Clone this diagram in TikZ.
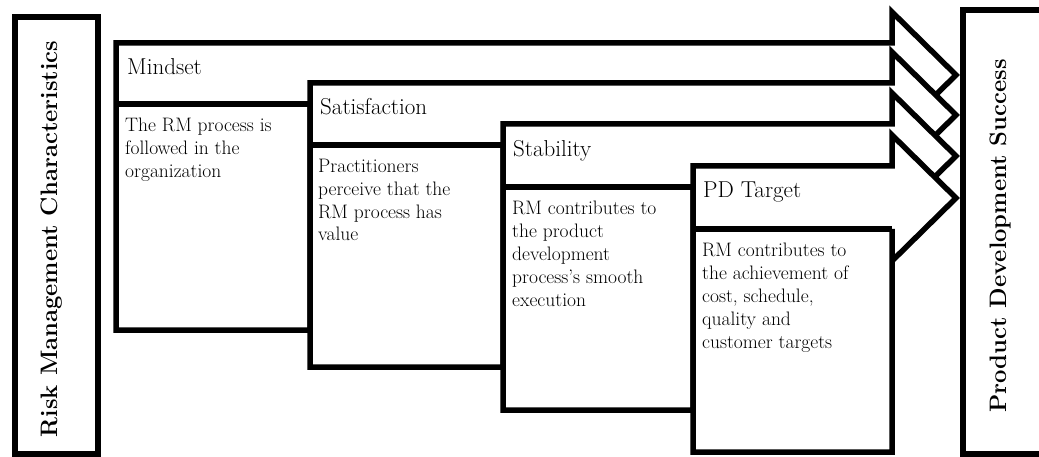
\documentclass[tikz,border=0pt]{standalone}
\usepackage{fontspec}
\begin{document}
\begin{tikzpicture}[x=1pt,y=-1pt]
\tikzset{
  frame/.style={line width=5.5pt, line join=miter, draw=black, fill=white},
  headtext/.style={font=\fontsize{23}{27}\selectfont, anchor=base west, inner sep=0pt},
  bodytext/.style={font=\fontsize{19.5}{23}\selectfont, anchor=base west, inner sep=0pt, align=left},
  sidetext/.style={font=\fontsize{23.8}{30}\selectfont\bfseries, anchor=base, inner sep=0pt, rotate=90},
}
% stage shape: #1 left, #2 right, #3 top, #4 header bottom, #5 box bottom
\newcommand\pdstage[5]{%
  \draw[frame] (#1,#3) -- (892,#3) -- (892,#3-31) -- (956,#3+32) -- (892,#3+95)
     -- (892,#4) -- (#2,#4) -- (#2,#5) -- (#1,#5) -- cycle;
  \draw[line width=5.5pt] (#1,#4) -- (#2,#4);
}
\useasboundingbox (0,0) rectangle (1039,457);
\begin{scope}
\clip (0,0) rectangle (1039,457);

% left frame
\draw[frame] (15,17) rectangle (98,454);
\node[sidetext] (rmc) at (57,239) {Risk Management Characteristics};

% stages, each one drawn over the previous
% (body nodes are placed by the baseline of their last line)
\pdstage{116}{310}{43}{104}{330}
\node[headtext] (h1) at (127,75) {Mindset};
\node[bodytext] (b1) at (125,178) {The RM process is\\followed in the\\organization};

\pdstage{310}{503}{83}{145}{367}
\node[headtext] (h2) at (320,115) {Satisfaction};
\node[bodytext] (b2) at (318,241) {Practitioners\\perceive that the\\RM process has\\value};

\pdstage{503}{693}{124}{187}{410}
\node[headtext] (h3) at (513,157) {Stability};
\node[bodytext] (b3) at (512,306) {RM contributes to\\the product\\development\\process's smooth\\execution};

\pdstage{693}{892}{166}{229}{452}
\node[headtext] (h4) at (703,198) {PD Target};
\node[bodytext] (b4) at (702,348) {RM contributes to\\the achievement of\\cost, schedule,\\quality and\\customer targets};

% right frame
\draw[line width=5.5pt] (963,10) rectangle (1070,454);
\node[sidetext] (pds) at (1006,236) {Product Development Success};
\end{scope}
\end{tikzpicture}
\end{document}
